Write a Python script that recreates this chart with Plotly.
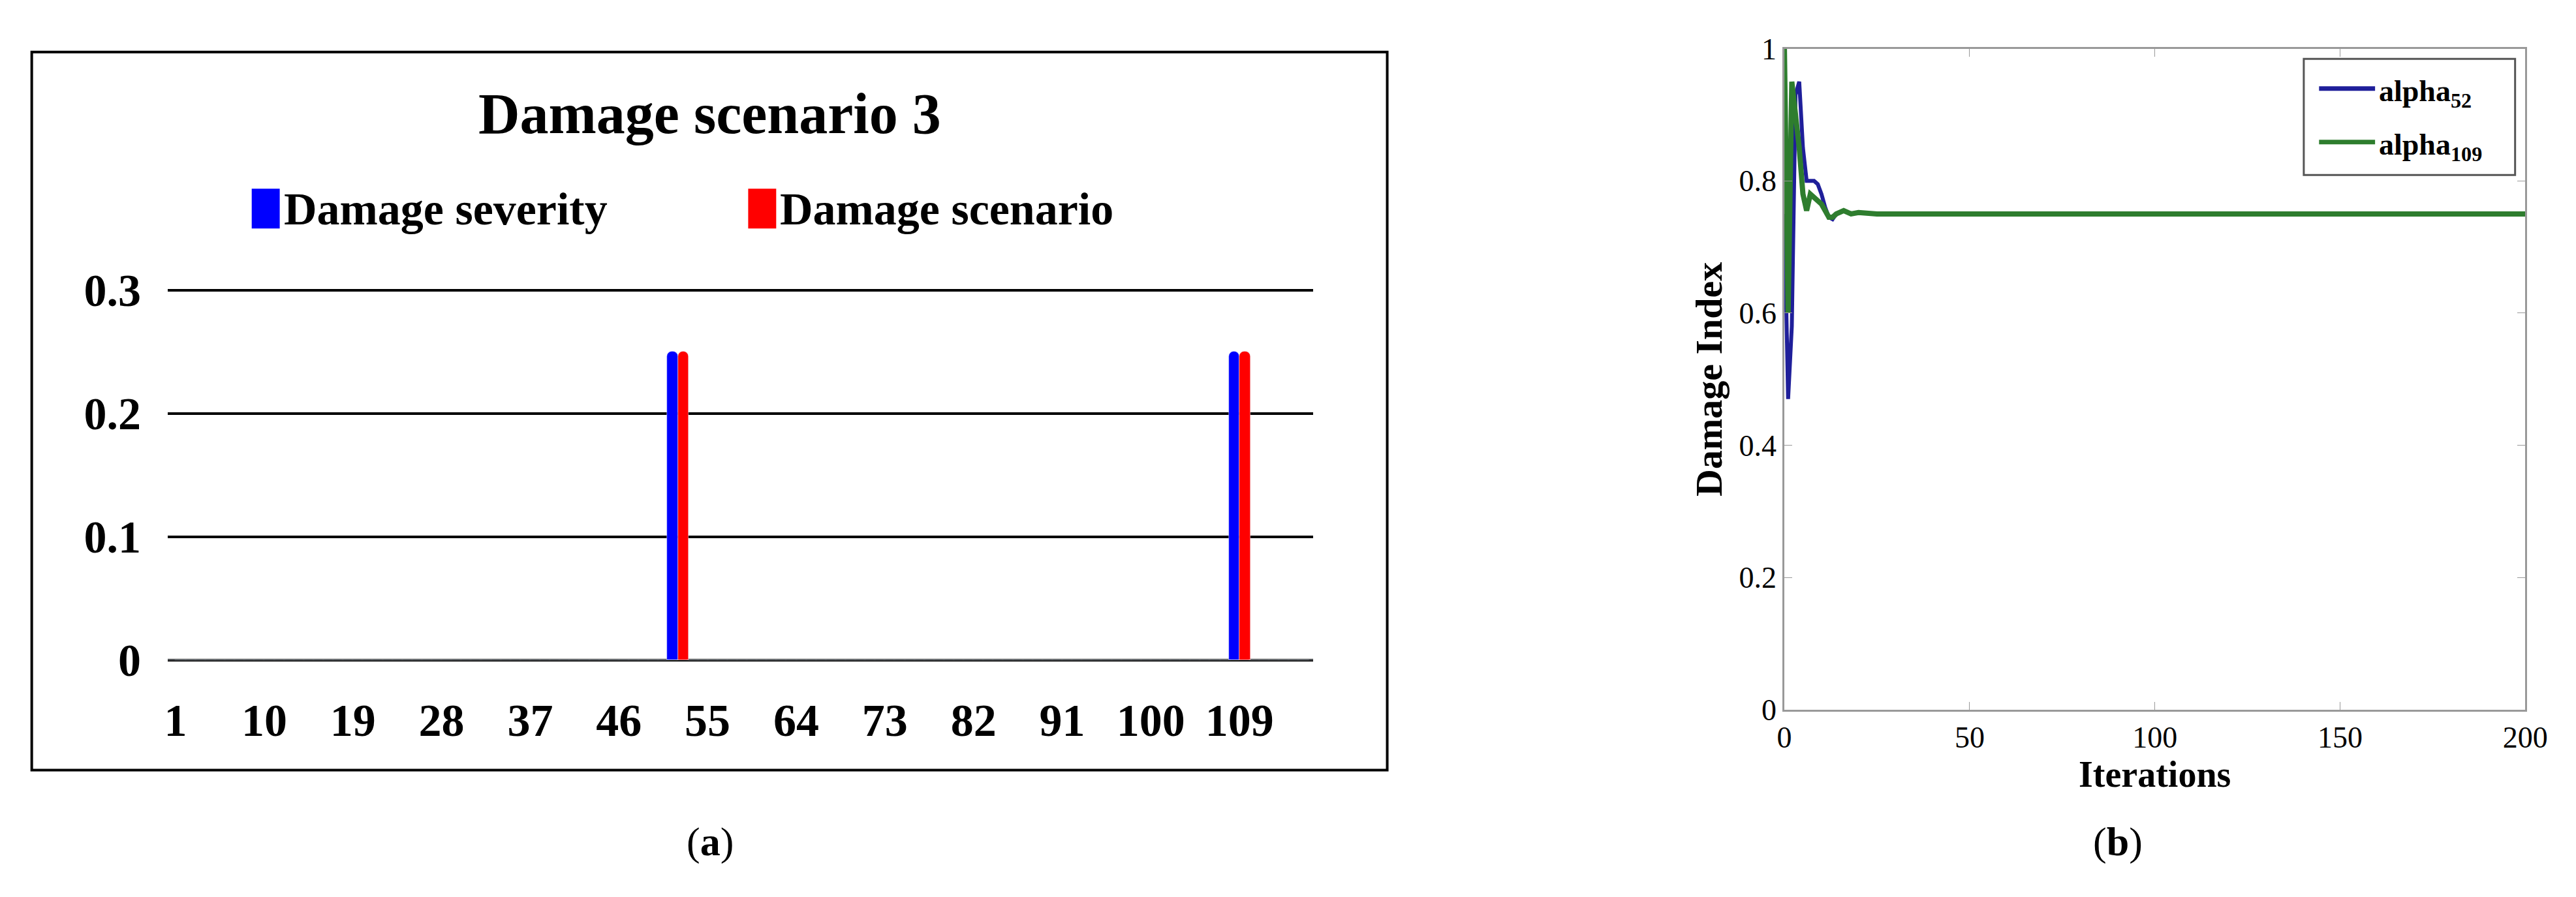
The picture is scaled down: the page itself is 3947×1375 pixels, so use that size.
import plotly.graph_objects as go

# Left panel data
elements = list(range(1, 117))
severity = [0.25 if e in (52, 109) else 0 for e in elements]
scenario = [0.25 if e in (52, 109) else 0 for e in elements]
x_ticks = [1, 10, 19, 28, 37, 46, 55, 64, 73, 82, 91, 100, 109]

# Right panel data
iters = [0, 1, 2, 3, 4, 5, 6, 7, 8, 9, 10, 11, 12, 13, 14, 16, 18, 20, 25, 30, 40, 60, 80, 100, 150, 200]
alpha52 = [0.75, 0.47, 0.58, 0.93, 0.95, 0.85, 0.80, 0.80, 0.80, 0.795, 0.78, 0.76, 0.745, 0.742, 0.75, 0.755, 0.75, 0.752, 0.75, 0.75, 0.75, 0.75, 0.75, 0.75, 0.75, 0.75]
alpha109 = [1.0, 0.60, 0.95, 0.90, 0.85, 0.78, 0.755, 0.78, 0.775, 0.77, 0.765, 0.755, 0.745, 0.745, 0.75, 0.755, 0.75, 0.752, 0.75, 0.75, 0.75, 0.75, 0.75, 0.75, 0.75, 0.75]

F = "Liberation Serif"
fig = go.Figure()
fig.add_trace(go.Bar(x=elements, y=severity, name="Damage severity", marker_color="#0000ff",
                     xaxis="x", yaxis="y", width=1.1, offset=-1.1, showlegend=False))
fig.add_trace(go.Bar(x=elements, y=scenario, name="Damage scenario", marker_color="#ff0000",
                     xaxis="x", yaxis="y", width=1.1, offset=0, showlegend=False))
fig.add_trace(go.Scatter(x=iters, y=alpha52, mode="lines", line=dict(color="#1f1f9a", width=6),
                         xaxis="x2", yaxis="y2", showlegend=False))
fig.add_trace(go.Scatter(x=iters, y=alpha109, mode="lines", line=dict(color="#2e7d2e", width=8),
                         xaxis="x2", yaxis="y2", showlegend=False))

fig.update_layout(
    width=3947, height=1375, margin=dict(l=0, r=0, t=0, b=0),
    plot_bgcolor="white", paper_bgcolor="white", barmode="overlay", bargap=0, barcornerradius=8,
    font=dict(family=F, color="black"),
    xaxis=dict(domain=[0.061, 0.511], range=[0.2, 116.5], tickvals=x_ticks, showgrid=False,
               zeroline=False, showline=False, ticks="", ticklabelstandoff=45,
               tickfont=dict(size=70, family=F, weight="bold"), anchor="y"),
    yaxis=dict(domain=[0.2545, 0.6935], range=[0, 0.302], tickvals=[0, 0.1, 0.2, 0.3],
               ticktext=["0", "0.1", "0.2", "0.3"], showgrid=True, gridcolor="black", gridwidth=4,
               zeroline=True, zerolinecolor="black", zerolinewidth=4,
               tickfont=dict(size=70, family=F, weight="bold"), ticklabelstandoff=40,
               anchor="x"),
    xaxis2=dict(domain=[0.696, 0.987], range=[0, 200], tickvals=[0, 50, 100, 150, 200],
                showgrid=False, zeroline=False, showline=True, mirror="ticks", linecolor="#999999",
                linewidth=3, ticks="inside", ticklen=12, tickcolor="#999999",
                tickfont=dict(size=46, family=F), anchor="y2",
                title=dict(text="<b>Iterations</b>", font=dict(size=56, family=F), standoff=12)),
    yaxis2=dict(domain=[0.196, 0.975], range=[0, 1], tickvals=[0, 0.2, 0.4, 0.6, 0.8, 1],
                ticktext=["0", "0.2", "0.4", "0.6", "0.8", "1"],
                showgrid=False, zeroline=False, showline=True, mirror="ticks", linecolor="#999999",
                linewidth=3, ticks="inside", ticklen=12, tickcolor="#999999",
                tickfont=dict(size=46, family=F), anchor="x2",
                title=dict(text="<b>Damage Index</b>", font=dict(size=58, family=F), standoff=8)),
)

def note(text, x, y, size, xanchor="center"):
    fig.add_annotation(text=text, xref="paper", yref="paper", x=x, y=y, xanchor=xanchor,
                       yanchor="middle", showarrow=False, font=dict(size=size, family=F))

fig.add_shape(type="rect", xref="paper", yref="paper", x0=0.0076, x1=0.54, y0=0.125, y1=0.971,
              line=dict(color="black", width=4))
note("<b>Damage scenario 3</b>", 0.274, 0.898, 88)
# left legend
fig.add_shape(type="rect", xref="paper", yref="paper", x0=0.094, x1=0.105, y0=0.763, y1=0.81,
              fillcolor="#0000ff", line=dict(width=0))
fig.add_shape(type="rect", xref="paper", yref="paper", x0=0.289, x1=0.300, y0=0.763, y1=0.81,
              fillcolor="#ff0000", line=dict(width=0))
note("<b>Damage severity</b>", 0.106, 0.786, 70, "left")
note("<b>Damage scenario</b>", 0.301, 0.786, 70, "left")

note("(<b>a</b>)", 0.274, 0.04, 62)
note("(<b>b</b>)", 0.827, 0.04, 62)

# Right legend
fig.add_shape(type="rect", xref="paper", yref="paper", x0=0.900, x1=0.983, y0=0.826, y1=0.963,
              line=dict(color="#555555", width=3), fillcolor="white")
fig.add_shape(type="line", xref="paper", yref="paper", x0=0.906, x1=0.928, y0=0.928, y1=0.928,
              line=dict(color="#1f1f9a", width=7))
fig.add_shape(type="line", xref="paper", yref="paper", x0=0.906, x1=0.928, y0=0.865, y1=0.865,
              line=dict(color="#2e7d2e", width=7))
note("<b>alpha<sub>52</sub></b>", 0.929, 0.922, 46, "left")
note("<b>alpha<sub>109</sub></b>", 0.929, 0.859, 46, "left")

fig.write_html("out.html")
